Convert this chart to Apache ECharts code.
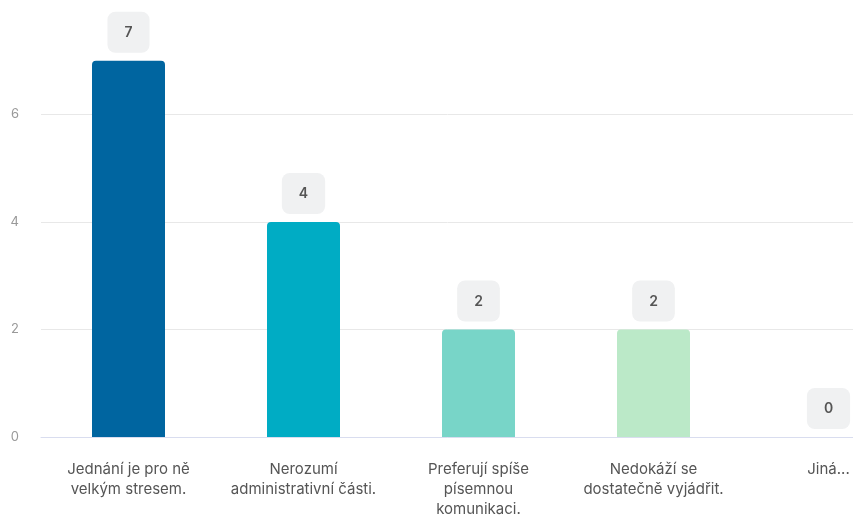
<!DOCTYPE html>
<html><head><meta charset="utf-8">
<script src="https://cdn.jsdelivr.net/npm/echarts@6/dist/echarts.min.js"></script>
<style>html,body{margin:0;padding:0;background:#fff}#c{width:853px;height:515px}</style>
</head><body><div id="c"></div>
<script>
const categories = ["Jednání je pro ně\nvelkým stresem.", "Nerozumí\nadministrativní části.", "Preferují spíše\npísemnou\nkomunikaci.", "Nedokáží se\ndostatečně vyjádřit.", "Jiná..."];
const values = [7, 4, 2, 2, 0];
const colors = ["#0065a0", "#00acc4", "#78d5c8", "#bbe9c8", "#e2f5e6"];
const yTicks = [0, 2, 4, 6, 8];

const chart = echarts.init(document.getElementById('c'));
chart.setOption({
  animation: false,
  grid: { left: 41, width: 875, top: 7, height: 430, containLabel: false, outerBoundsMode: 'none' },
  xAxis: {
    type: 'category', data: categories,
    axisLine: { lineStyle: { color: '#d9ddef', width: 1 } },
    axisTick: { show: false },
    axisLabel: { color: '#555', fontFamily: 'Inter', fontSize: 15, margin: 22, lineHeight: 20, interval: 0 }
  },
  yAxis: {
    type: 'value', min: yTicks[0], max: yTicks[yTicks.length - 1], interval: 2,
    axisLine: { show: false }, axisTick: { show: false },
    axisLabel: { color: '#999', fontFamily: 'Inter', fontSize: 13, margin: 22,
      formatter: v => v === 8 ? '' : String(v) },
    splitLine: { lineStyle: { color: ['#e8e8e8', '#e8e8e8', '#e8e8e8', '#e8e8e8', 'rgba(0,0,0,0)'] } }
  },
  series: [{
    type: 'bar', barWidth: 73,
    data: values.map((v, i) => ({ value: v, itemStyle: { color: colors[i] } })),
    itemStyle: { borderRadius: [4, 4, 0, 0] },
    label: {
      show: true, position: 'top', distance: 8,
      color: '#555', fontFamily: 'Inter', fontSize: 14, fontWeight: 600,
      backgroundColor: '#f0f1f2', borderRadius: 8, padding: [14, 17, 13, 17]
    }
  }]
});
</script></body></html>
